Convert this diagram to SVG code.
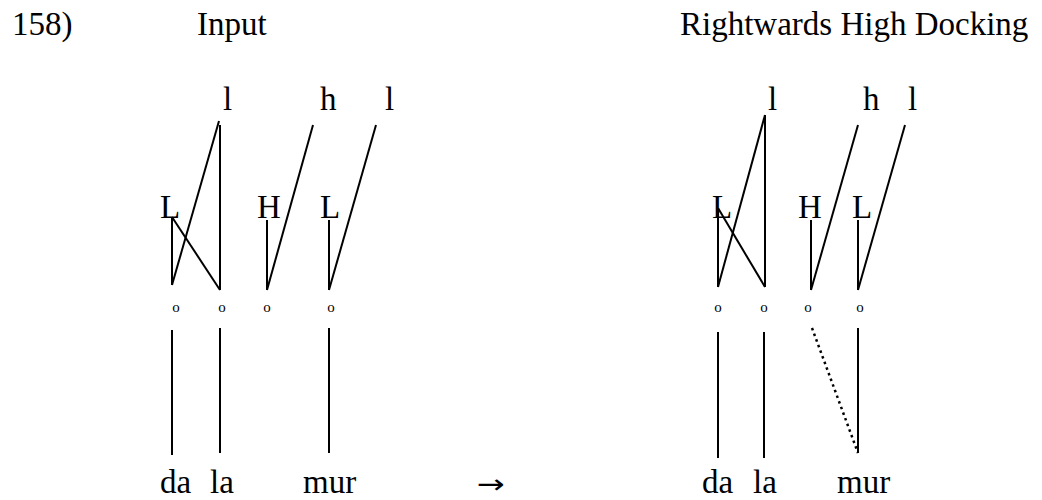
<svg xmlns="http://www.w3.org/2000/svg" width="1042" height="500" viewBox="0 0 1042 500">
<style>
text{font-family:"Liberation Serif","Times New Roman",serif;fill:#000;font-size:33px}
.o{font-size:15px;text-anchor:middle}
.arr{font-family:"DejaVu Sans",sans-serif;font-size:26px}
line{stroke:#000;stroke-width:2;fill:none}
.dot{stroke-width:2.5;stroke-dasharray:2.5 3.5}
</style>
<rect width="1042" height="500" fill="#fff"/>
<g id="titles">
<text x="12" y="35">158)</text>
<text x="197" y="35">Input</text>
<text x="680" y="35">Rightwards High Docking</text>
<text class="arr" x="477" y="493" textLength="28" lengthAdjust="spacingAndGlyphs">→</text>
</g>
<g id="input">
<g id="in-tones"><text x="223" y="110">l</text><text x="320" y="110">h</text><text x="385" y="110">l</text>
<text x="160" y="218">L</text><text x="257" y="218">H</text><text x="320" y="218">L</text></g>
<g id="in-moras"><text class="o" x="176" y="312">o</text><text class="o" x="222" y="312">o</text><text class="o" x="267" y="312">o</text><text class="o" x="331" y="312">o</text></g>
<g id="in-syll"><text x="160" y="493">da</text><text x="210" y="493">la</text><text x="303" y="493">mur</text></g>
</g>
<g id="output">
<g id="out-tones"><text x="768" y="110">l</text><text x="863" y="110">h</text><text x="908" y="110">l</text>
<text x="712" y="218">L</text><text x="798" y="218">H</text><text x="852" y="218">L</text></g>
<g id="out-moras"><text class="o" x="718" y="312">o</text><text class="o" x="764" y="312">o</text><text class="o" x="808" y="312">o</text><text class="o" x="860" y="312">o</text></g>
<g id="out-syll"><text x="702" y="493">da</text><text x="753" y="493">la</text><text x="837" y="493">mur</text></g>
</g>
<g id="connectors">
<line x1="172" y1="285" x2="219" y2="121"/>
<line x1="220" y1="125" x2="220" y2="290"/>
<line x1="172" y1="217" x2="172" y2="285"/>
<line x1="172" y1="217" x2="220" y2="290"/>
<line x1="267" y1="220" x2="267" y2="290"/>
<line x1="267" y1="290" x2="313" y2="125"/>
<line x1="329" y1="220" x2="329" y2="290"/>
<line x1="329" y1="290" x2="376" y2="125"/>
<line x1="172" y1="330" x2="172" y2="455"/>
<line x1="220" y1="328" x2="220" y2="453"/>
<line x1="329" y1="328" x2="329" y2="453"/>
<line x1="718" y1="287" x2="765" y2="115"/>
<line x1="765" y1="115" x2="765" y2="287"/>
<line x1="718" y1="208" x2="718" y2="287"/>
<line x1="718" y1="208" x2="765" y2="287"/>
<line x1="811" y1="220" x2="811" y2="290"/>
<line x1="811" y1="290" x2="858" y2="125"/>
<line x1="858" y1="220" x2="858" y2="290"/>
<line x1="858" y1="290" x2="905" y2="125"/>
<line x1="718" y1="332" x2="718" y2="458"/>
<line x1="764" y1="332" x2="764" y2="458"/>
<line x1="858" y1="328" x2="858" y2="453"/>
<line class="dot" x1="812" y1="328" x2="858" y2="453"/>
</g>
</svg>
